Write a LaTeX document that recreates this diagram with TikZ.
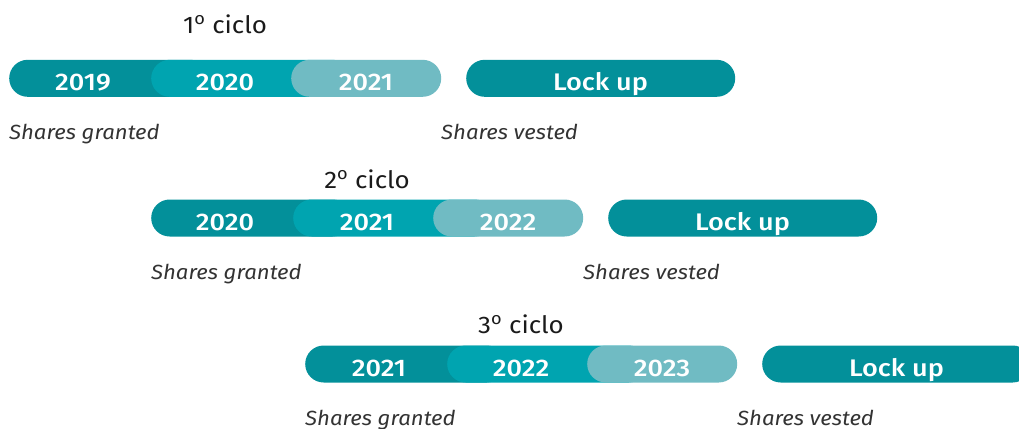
\documentclass[tikz,border=0pt]{standalone}
\usepackage{fontspec}
\setmainfont[FakeStretch=1.08]{Fira Sans}
\newfontfamily\medfont[FakeStretch=1.13]{Fira Sans Medium}
\definecolor{tealA}{HTML}{03909A}
\definecolor{tealB}{HTML}{00A4B0}
\definecolor{tealC}{HTML}{70BBC3}
\definecolor{txtdark}{HTML}{1A1A1A}
\definecolor{txtgray}{HTML}{333333}
\tikzset{
  pill/.style={rectangle, rounded corners=18.5pt, minimum height=37pt, inner sep=0pt, anchor=west, draw=none},
  yeartxt/.style={text=white, font=\medfont\fontsize{24}{28}\selectfont, anchor=base, inner sep=0pt},
  labtxt/.style={font=\itshape\fontsize{20.5}{24}\selectfont, text=txtgray, anchor=base west, inner sep=0pt},
  titletxt/.style={font=\fontsize{24}{28}\selectfont, text=txtdark, anchor=base, inner sep=0pt}
}
\begin{document}
\begin{tikzpicture}[x=1pt,y=-1pt]
\useasboundingbox (0,0) rectangle (1019,428);
\clip (0,0) rectangle (1019,428);
\foreach \r/\dx/\c/\ty/\ya/\yb/\yc in {1/0/78.3/33.5/2019/2020/2021, 2/142/218/188.5/2020/2021/2022, 3/296/364/333.5/2021/2022/2023}{
  \node[titletxt] (t\r) at (225+\dx,\ty) {\r\textsuperscript{o} ciclo};
  \node[pill, fill=tealA, minimum width=200pt] (pa\r) at (9+\dx,\c) {};
  \node[pill, fill=tealB, minimum width=200pt] (pb\r) at (151+\dx,\c) {};
  \node[pill, fill=tealC, minimum width=150pt] (pc\r) at (291+\dx,\c) {};
  \node[yeartxt] (ya\r) at (83+\dx,\c+12.5) {\ya};
  \node[yeartxt] (yb\r) at (225+\dx,\c+12.5) {\yb};
  \node[yeartxt] (yc\r) at (366+\dx,\c+12.5) {\yc};
  \node[pill, fill=tealA, minimum width=269pt] (lk\r) at (466+\dx,\c) {};
  \node[yeartxt] (lt\r) at (600.5+\dx,\c+12.5) {Lock up};
  \node[labtxt] (sg\r) at (9+\dx,\c+61.5) {Shares granted};
  \node[labtxt] (sv\r) at (441+\dx,\c+61.5) {Shares vested};
}
\end{tikzpicture}
\end{document}
